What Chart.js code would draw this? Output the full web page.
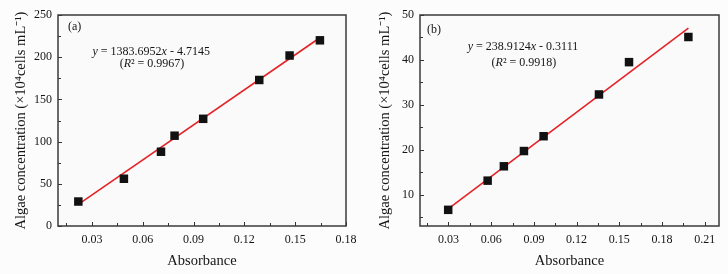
<!DOCTYPE html>
<html><head><meta charset="utf-8">
<script src="https://cdn.jsdelivr.net/npm/chart.js@4/dist/chart.umd.min.js"></script>
<style>
html,body{margin:0;padding:0;background:#fcfcfc;}
#wrap{position:relative;width:728px;height:274px;overflow:hidden;}
.c{position:absolute;top:0;width:364px;height:274px;}
</style></head><body>
<div id="wrap">
<div class="c" style="left:0"><canvas id="ca" width="364" height="274"></canvas></div>
<div class="c" style="left:364px"><canvas id="cb" width="364" height="274"></canvas></div>
</div>
<script>
// ---- Data (a)
const absorbanceA = [0.0220, 0.0489, 0.0708, 0.0788, 0.0957, 0.1288, 0.1467, 0.1646];
const concentrationA = [29, 56, 88, 107, 127, 173, 202, 220];
const fitXA = [0.022, 0.165];
const fitYA = [25.7, 223.6];
const xTicksA = [0.03, 0.06, 0.09, 0.12, 0.15, 0.18];
const yTicksA = [0, 50, 100, 150, 200, 250];
// ---- Data (b)
const absorbanceB = [0.0298, 0.0575, 0.0689, 0.0830, 0.0968, 0.1357, 0.1568, 0.1985];
const concentrationB = [6.6, 13.1, 16.3, 19.7, 23.0, 32.3, 39.5, 45.1];
const fitXB = [0.0298, 0.1985];
const fitYB = [6.8, 47.1];
const xTicksB = [0.03, 0.06, 0.09, 0.12, 0.15, 0.18, 0.21];
const yTicksB = [10, 20, 30, 40, 50];

const SERIF = "'Liberation Serif','Times New Roman',serif";
const TXT = '#151515';
const YTITLE = 'Algae concentration (\u00d710\u2074cells mL\u207b\u00b9)';

function minors(ticks, min, max) {
  const step = ticks[1] - ticks[0];
  const out = [];
  const first = ticks[0] - step / 2;
  if (first >= min - 1e-9) out.push(first);
  for (let i = 0; i < ticks.length; i++) {
    const m = ticks[i] + step / 2;
    if (m <= max + 1e-9) out.push(m);
  }
  return out;
}

function makeChart(id, cfg) {
  const xMinor = minors(cfg.xTicks, cfg.xMin, cfg.xMax);
  const yMinor = minors(cfg.yTicks, cfg.yMin, cfg.yMax);
  const frame = {
    id: 'frame' + id,
    beforeDatasetsDraw(chart) {
      const {ctx, chartArea: a} = chart;
      ctx.save();
      ctx.fillStyle = '#fafafa';
      ctx.fillRect(a.left, a.top, a.right - a.left, a.bottom - a.top);
      ctx.restore();
    },
    afterDraw(chart) {
      const {ctx, chartArea: a, scales: {x, y}} = chart;
      ctx.save();
      ctx.strokeStyle = '#333';
      ctx.lineWidth = 1;
      const tick = (vals, len, horiz) => {
        vals.forEach(v => {
          ctx.beginPath();
          if (horiz) {
            const px = Math.round(x.getPixelForValue(v)) + 0.5;
            if (px < a.left - 1 || px > a.right + 1) return;
            ctx.moveTo(px, a.bottom); ctx.lineTo(px, a.bottom - len);
          } else {
            const py = Math.round(y.getPixelForValue(v)) + 0.5;
            if (py < a.top - 1 || py > a.bottom + 1) return;
            ctx.moveTo(a.left, py); ctx.lineTo(a.left + len, py);
          }
          ctx.stroke();
        });
      };
      tick(cfg.xTicks, 4, true); tick(xMinor, 3, true);
      tick(cfg.yTicks, 4, false); tick(yMinor, 3, false);
      ctx.lineWidth = 1.5;
      ctx.strokeStyle = '#3a3a3a';
      ctx.strokeRect(a.left, a.top, a.right - a.left, a.bottom - a.top);
      // annotations
      ctx.fillStyle = TXT;
      ctx.textBaseline = 'middle';
      cfg.notes.forEach(n => {
        const px = x.getPixelForValue(n.x), py = y.getPixelForValue(n.y);
        let total = 0;
        const segs = n.segs.map(s => {
          const f = (s[1] ? 'italic ' : '') + n.size + 'px ' + SERIF;
          ctx.font = f;
          const w = ctx.measureText(s[0]).width;
          total += w;
          return {t: s[0], f, w};
        });
        let cx = n.align === 'center' ? px - total / 2 : px;
        segs.forEach(s => { ctx.font = s.f; ctx.textAlign = 'left'; ctx.fillText(s.t, cx, py); cx += s.w; });
      });
      ctx.restore();
    }
  };
  return new Chart(document.getElementById(id), {
    type: 'scatter',
    data: {
      datasets: [
        {
          data: cfg.xs.map((v, i) => ({x: v, y: cfg.ys[i]})),
          pointStyle: 'rect', pointRadius: 6, pointHoverRadius: 6,
          backgroundColor: '#111', borderColor: '#111', borderWidth: 0
        },
        {
          type: 'line',
          data: cfg.fx.map((v, i) => ({x: v, y: cfg.fy[i]})),
          borderColor: '#e42326', borderWidth: 1.6, pointRadius: 0, fill: false, tension: 0
        }
      ]
    },
    options: {
      responsive: false, animation: false, devicePixelRatio: 1,
      layout: {padding: {left: 0, right: cfg.padRight, top: 15, bottom: 0}},
      plugins: {legend: {display: false}, tooltip: {enabled: false}},
      scales: {
        x: {
          type: 'linear', min: cfg.xMin, max: cfg.xMax,
          afterBuildTicks: s => { s.ticks = cfg.xTicks.map(v => ({value: v})); },
          afterFit: s => { s.height = 48; },
          grid: {display: false, drawTicks: false}, border: {display: false},
          ticks: {padding: 7, color: TXT, font: {family: SERIF, size: 12}, maxRotation: 0, autoSkip: false,
                  callback: v => Number(v).toFixed(2)},
          title: {display: true, text: 'Absorbance', color: TXT, font: {family: SERIF, size: 14.5}, padding: {top: 0, bottom: 4}}
        },
        y: {
          type: 'linear', min: cfg.yMin, max: cfg.yMax,
          afterBuildTicks: s => { s.ticks = cfg.yTicks.map(v => ({value: v})); },
          afterFit: s => { s.width = cfg.yWidth; },
          grid: {display: false, drawTicks: false}, border: {display: false},
          ticks: {padding: 6, color: TXT, font: {family: SERIF, size: 12}, autoSkip: false, callback: v => String(v)},
          title: {display: true, text: YTITLE, color: TXT, font: {family: SERIF, size: 14.5}, padding: {top: 12, bottom: 0}}
        }
      }
    },
    plugins: [frame]
  });
}

makeChart('ca', {
  xs: absorbanceA, ys: concentrationA, fx: fitXA, fy: fitYA,
  xTicks: xTicksA, yTicks: yTicksA, xMin: 0.01, xMax: 0.18, yMin: 0, yMax: 250,
  padRight: 18, yWidth: 58,
  notes: [
    {x: 0.0159, y: 236, size: 12, align: 'left', segs: [['(a)', false]]},
    {x: 0.0650, y: 206.5, size: 12, align: 'center', segs: [['y', true], [' = 1383.6952', false], ['x', true], [' - 4.7145', false]]},
    {x: 0.0655, y: 191.6, size: 12, align: 'center', segs: [['(', false], ['R', true], ['\u00b2 = 0.9967)', false]]}
  ]
});
makeChart('cb', {
  xs: absorbanceB, ys: concentrationB, fx: fitXB, fy: fitYB,
  xTicks: xTicksB, yTicks: yTicksB, xMin: 0.01, xMax: 0.22, yMin: 3, yMax: 50,
  padRight: 9, yWidth: 56,
  notes: [
    {x: 0.015, y: 46.8, size: 12, align: 'left', segs: [['(b)', false]]},
    {x: 0.0823, y: 42.8, size: 12, align: 'center', segs: [['y', true], [' = 238.9124', false], ['x', true], [' - 0.3111', false]]},
    {x: 0.083, y: 39.4, size: 12, align: 'center', segs: [['(', false], ['R', true], ['\u00b2 = 0.9918)', false]]}
  ]
});
</script>
</body></html>
